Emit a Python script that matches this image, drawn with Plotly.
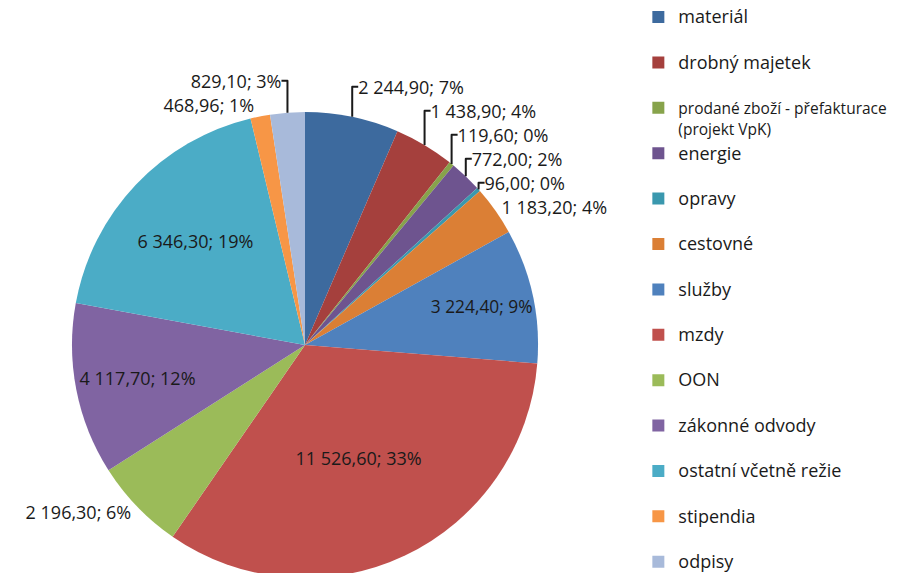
import plotly.graph_objects as go

categories = ["materiál", "drobný majetek", "prodané zboží - přefakturace|(projekt VpK)",
              "energie", "opravy", "cestovné", "služby", "mzdy", "OON",
              "zákonné odvody", "ostatní včetně režie", "stipendia", "odpisy"]
values = [2244.90, 1438.90, 119.60, 772.00, 96.00, 1183.20, 3224.40, 11526.60,
          2196.30, 4117.70, 6346.30, 468.96, 829.10]
pct_labels = ["7%", "4%", "0%", "2%", "0%", "4%", "9%", "33%", "6%", "12%", "19%", "1%", "3%"]
colors = ["#3D6A9E", "#A5403D", "#87A34B", "#6E548F", "#3A98AE", "#DB7F35",
          "#4F81BD", "#C0504D", "#9BBB59", "#8064A2", "#4BACC6", "#F79646", "#A8BADA"]
positions = ["outside", "outside", "outside", "outside", "outside", "outside",
             "inside", "inside", "outside", "inside", "inside", "outside", "outside"]


def legend_label(name):
    lines = name.split("|")
    if len(lines) == 1:
        return "<span style='font-size:18px'>%s</span><br>&nbsp;" % name
    return "<br>".join("<span style='font-size:15.5px'>%s</span>" % ln for ln in lines)


legend_labels = [legend_label(c) for c in categories]

H = 610
fig = go.Figure(go.Pie(
    labels=legend_labels,
    values=values,
    text=pct_labels,
    texttemplate="%{value:,.2f}; %{text}",
    textposition=positions,
    insidetextorientation="horizontal",
    sort=False,
    direction="clockwise",
    rotation=0,
    marker=dict(colors=colors, line=dict(width=0)),
    textfont=dict(family="Open Sans", size=18, color="#1a1a1a"),
    domain=dict(x=[72 / 923, 538 / 923], y=[(H - 345 - 233) / H, (H - 345 + 233) / H]),
    hoverinfo="value+percent",
))

fig.update_layout(
    width=923, height=H,
    margin=dict(l=0, r=0, t=0, b=0),
    paper_bgcolor="white",
    separators=", ",
    showlegend=True,
    legend=dict(x=0.6916, y=1.0, xanchor="left", yanchor="top",
                valign="top", itemwidth=30,
                font=dict(family="Open Sans", size=16.3, color="#1a1a1a"),
                bgcolor="rgba(0,0,0,0)"),
)

fig.write_html(
    "out.html",
    config={"displayModeBar": False},
    post_script="document.documentElement.style.overflow='hidden';"
                "document.body.style.margin='0';document.body.style.overflow='hidden';",
)
